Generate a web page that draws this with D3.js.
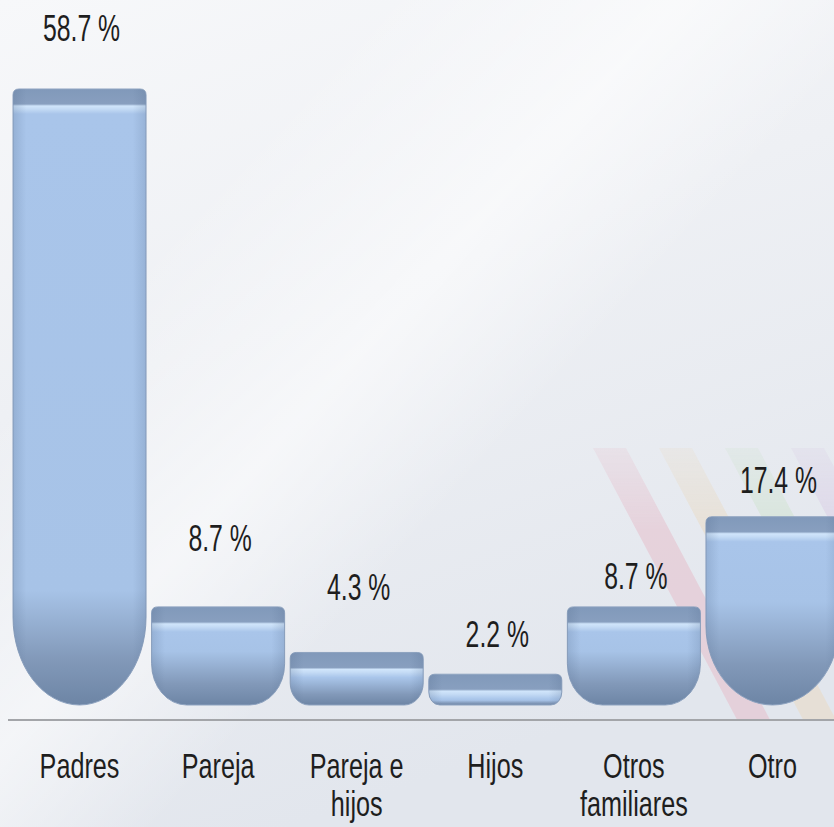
<!DOCTYPE html>
<html>
<head>
<meta charset="utf-8">
<script src="https://cdn.jsdelivr.net/npm/d3@7/dist/d3.min.js"></script>
<style>
  html, body { margin: 0; padding: 0; }
  body { width: 834px; height: 827px; overflow: hidden; }
</style>
</head>
<body>
<div id="chart"></div>
<script>
// Data
const categories = ["Padres", "Pareja", "Pareja e hijos", "Hijos", "Otros familiares", "Otro"];
const tickLines = [["Padres"], ["Pareja"], ["Pareja e", "hijos"], ["Hijos"], ["Otros", "familiares"], ["Otro"]];
const values = [58.7, 8.7, 4.3, 2.2, 8.7, 17.4];
const valueLabels = ["58.7 %", "8.7 %", "4.3 %", "2.2 %", "8.7 %", "17.4 %"];

// Layout
const width = 834;
const height = 827;
const axisY = 720;
const bevel = 8;              // bars reach a bit below the zero line
const labelGap = [48, 56, 52, 27, 18, 24];   // label baseline above bar top

const svg = d3.select("#chart")
    .append("svg")
    .attr("width", width)
    .attr("height", height);

const defs = svg.append("defs");

// Background
const bg = defs.append("linearGradient")
    .attr("id", "bg")
    .attr("x1", 0).attr("y1", 0).attr("x2", 0.35).attr("y2", 1);
bg.append("stop").attr("offset", 0).attr("stop-color", "#f7f8fa");
bg.append("stop").attr("offset", 0.45).attr("stop-color", "#eef0f4");
bg.append("stop").attr("offset", 1).attr("stop-color", "#e2e6ed");

const streak = defs.append("linearGradient")
    .attr("id", "streak")
    .attr("x1", 0).attr("y1", 0).attr("x2", 1).attr("y2", 0.9);
streak.append("stop").attr("offset", 0.25).attr("stop-color", "#fff").attr("stop-opacity", 0);
streak.append("stop").attr("offset", 0.45).attr("stop-color", "#fff").attr("stop-opacity", 0.55);
streak.append("stop").attr("offset", 0.6).attr("stop-color", "#fff").attr("stop-opacity", 0);

svg.append("rect").attr("width", width).attr("height", height).attr("fill", "url(#bg)");
svg.append("rect").attr("width", width).attr("height", height).attr("fill", "url(#streak)");

// Decorative diagonal stripes (bottom right)
const fade = defs.append("linearGradient")
    .attr("id", "fade")
    .attr("x1", 0).attr("y1", 0).attr("x2", 0).attr("y2", 1);
fade.append("stop").attr("offset", 0).attr("stop-color", "#fff").attr("stop-opacity", 0.4);
fade.append("stop").attr("offset", 0.3).attr("stop-color", "#fff").attr("stop-opacity", 1);
fade.append("stop").attr("offset", 1).attr("stop-color", "#fff").attr("stop-opacity", 1);
const mask = defs.append("mask").attr("id", "stripeMask");
mask.append("rect").attr("x", 560).attr("y", 448).attr("width", 280).attr("height", 272).attr("fill", "url(#fade)");

const stripeColors = ["#e6c3cf", "#e9dcc8", "#d0e3d0", "#dacee5"];
const stripes = svg.append("g").attr("mask", "url(#stripeMask)").attr("opacity", 0.6);
stripeColors.forEach((c, i) => {
    const x0 = 593 + i * 66;
    const top = 448, bot = 720, slope = 0.53, w = 33;
    stripes.append("path")
        .attr("d", `M${x0},${top} L${x0 + w},${top} L${x0 + w + slope * (bot - top)},${bot} L${x0 + slope * (bot - top)},${bot} Z`)
        .attr("fill", c);
});

// Scales
const x = d3.scaleBand()
    .domain(categories)
    .range([13, 839])
    .paddingInner(0.04)
    .paddingOuter(0);

const y = d3.scaleLinear()
    .domain([0, d3.max(values)])
    .range([axisY - 23, 89]);

const bw = x.bandwidth();

// Horizontal shading for the cylinder look
const side = defs.append("linearGradient")
    .attr("id", "side")
    .attr("x1", 0).attr("y1", 0).attr("x2", 1).attr("y2", 0);
side.append("stop").attr("offset", 0).attr("stop-color", "#50688a").attr("stop-opacity", 0.22);
side.append("stop").attr("offset", 0.1).attr("stop-color", "#50688a").attr("stop-opacity", 0);
side.append("stop").attr("offset", 0.9).attr("stop-color", "#50688a").attr("stop-opacity", 0);
side.append("stop").attr("offset", 1).attr("stop-color", "#50688a").attr("stop-opacity", 0.2);

function barPath(x0, w, top, bottom, rt, rx, ry) {
    return `M${x0},${top + rt} Q${x0},${top} ${x0 + rt},${top} H${x0 + w - rt} Q${x0 + w},${top} ${x0 + w},${top + rt}` +
        ` V${bottom - ry} A${rx},${ry} 0 0 1 ${x0 + w - rx},${bottom} H${x0 + rx} A${rx},${ry} 0 0 1 ${x0},${bottom - ry} Z`;
}

const bars = svg.append("g");

values.forEach((v, i) => {
    const x0 = x(categories[i]);
    const top = y(v);
    const bottom = y(0) + bevel;
    const h = bottom - top;
    const ry = Math.min(0.42 * h, 88);
    const rx = Math.min(ry * 0.85, bw / 2);
    const cap = 16;

    const g = defs.append("linearGradient")
        .attr("id", "bar" + i)
        .attr("gradientUnits", "userSpaceOnUse")
        .attr("x1", 0).attr("x2", 0)
        .attr("y1", top).attr("y2", bottom);
    let darkStart = Math.max(cap + 10, h - 1.3 * ry);
    const stops = [
        [0, "#8199ba"],
        [cap - 1, "#889fbf"],
        [cap + 1, "#d0e5fb"],
        [Math.min(cap + 4, h), "#c4dbf5"],
        [Math.min(cap + 9, h), "#a9c5ea"],
        [Math.min(darkStart, h), "#a7c3e7"],
        [Math.min(darkStart + (h - darkStart) * 0.6, h), "#8299b9"],
        [h, "#6d85a5"]
    ];
    stops.forEach(s => g.append("stop").attr("offset", s[0] / h).attr("stop-color", s[1]));

    const d = barPath(x0, bw, top, bottom, 6, rx, ry);
    bars.append("path")
        .attr("d", d)
        .attr("fill", `url(#bar${i})`)
        .attr("stroke", "#8ea3c0")
        .attr("stroke-width", 1);
    bars.append("path")
        .attr("d", d)
        .attr("fill", "url(#side)");
});

// Axis line
svg.append("line")
    .attr("x1", 8).attr("x2", width)
    .attr("y1", axisY).attr("y2", axisY)
    .attr("stroke", "#a3a5a9")
    .attr("stroke-width", 2);

// Value labels
svg.append("g").selectAll("text")
    .data(values)
    .join("text")
    .attr("transform", (d, i) => `translate(${x(categories[i]) + bw / 2 + (i === 5 ? 6 : 2)},${y(d) - labelGap[i]}) scale(0.67,1)`)
    .attr("text-anchor", "middle")
    .attr("font-family", "Liberation Sans, Arial, sans-serif")
    .attr("font-size", 37)
    .attr("fill", "#1e1e1e")
    .text((d, i) => valueLabels[i]);

// Category labels
const cats = svg.append("g");
tickLines.forEach((lines, i) => {
    lines.forEach((line, j) => {
        cats.append("text")
            .attr("transform", `translate(${x(categories[i]) + bw / 2},${778 + j * 38}) scale(0.72,1)`)
            .attr("text-anchor", "middle")
            .attr("font-family", "Liberation Sans, Arial, sans-serif")
            .attr("font-size", 35)
            .attr("fill", "#1e1e1e")
            .text(line);
    });
});
</script>
</body>
</html>
